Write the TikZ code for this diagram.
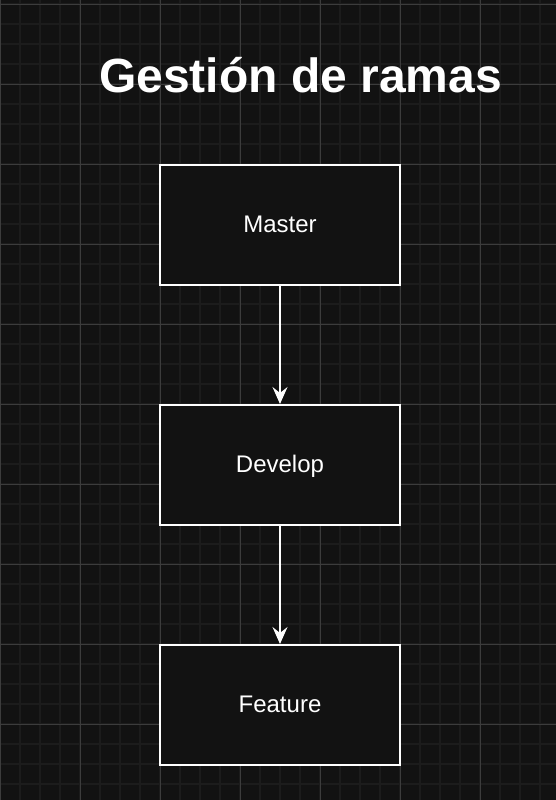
\documentclass[tikz,border=0pt]{standalone}
\usepackage{fontspec}
\setmainfont{Liberation Sans}
\usetikzlibrary{arrows.meta}
\definecolor{fondo}{HTML}{121212}
\definecolor{rejilla}{HTML}{1C1C1C}
\definecolor{rejillamayor}{HTML}{3C3C3C}
\tikzset{
  rama/.style={draw=white, line width=1pt, fill=fondo, text=white,
    minimum width=120pt, minimum height=60pt,
    font=\fontsize{12}{14}\selectfont, text height=8.6pt, text depth=1.3pt},
  flecha/.style={draw=white, line width=1pt,
    -{Stealth[length=8.5pt,width=7.5pt,inset=3pt]}}
}
\begin{document}
\begin{tikzpicture}[x=0.5pt,y=-0.5pt]
\fill[fondo] (0,0) rectangle (556,800);
\useasboundingbox (0,0) rectangle (556,800);

\foreach \x in {20,40,...,540} \draw[rejilla, line width=1pt] (\x,0) -- (\x,800);
\foreach \y in {4,24,...,784} \draw[rejilla, line width=1pt] (0,\y) -- (556,\y);
\foreach \x in {0,80,...,480} \draw[rejillamayor, line width=0.5pt] (\x,0) -- (\x,800);
\foreach \y in {4,84,...,724} \draw[rejillamayor, line width=0.5pt] (0,\y) -- (556,\y);

\node[anchor=base, text=white, font=\fontsize{24}{28}\selectfont\bfseries] (titulo) at (300.5,92) {Gestión de ramas};

\node[rama] (master) at (280,225) {Master};
\node[rama] (develop) at (280,465) {Develop};
\node[rama] (feature) at (280,705) {Feature};

\draw[flecha] (master) -- (develop);
\draw[flecha] (develop) -- (feature);
\end{tikzpicture}
\end{document}
